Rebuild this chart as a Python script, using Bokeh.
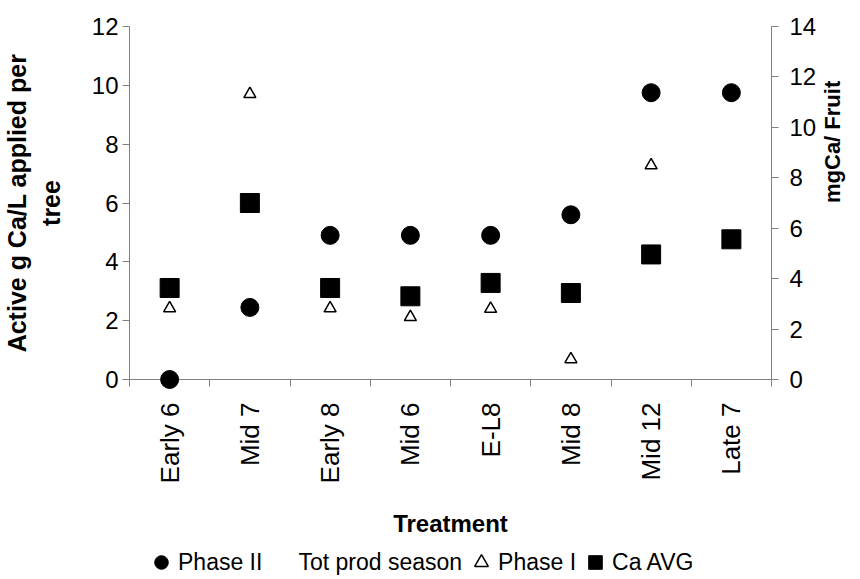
import numpy as np
from bokeh.plotting import figure
from bokeh.layouts import column
from bokeh.models import Range1d, LinearAxis, FixedTicker, Legend, LegendItem
from bokeh.embed import file_html
from bokeh.resources import INLINE

# ---- data ----
categories = ["Early 6", "Mid 7", "Early 8", "Mid 6", "E-L8", "Mid 8", "Mid 12", "Late 7"]
phase2 = [0.0, 2.45, 4.9, 4.9, 4.9, 5.6, 9.75, 9.75]            # left axis, circles
phase1 = [2.42, 9.7, 2.42, 2.12, 2.4, 0.69, 7.28, float("nan")]   # left axis, triangles
ca_avg = [3.63, 7.0, 3.63, 3.3, 3.83, 3.43, 4.96, 5.56]          # right axis, squares
left_ticks = [0, 2, 4, 6, 8, 10, 12]
right_ticks = [0, 2, 4, 6, 8, 10, 12, 14]
legend_labels = ["Phase II", "Tot prod season", "Phase I", "Ca AVG"]

FONT = "Liberation Sans"
AX = "#808080"

xpos = list(np.arange(len(categories)) + 0.5)
bounds = list(range(len(categories) + 1))

p = figure(width=860, height=545, x_range=Range1d(0, len(categories)),
           y_range=Range1d(left_ticks[0], left_ticks[-1]),
           output_backend="svg", toolbar_location=None,
           min_border_left=129, min_border_right=86, min_border_top=26,
           min_border_bottom=166)
p.outline_line_color = None
p.xgrid.grid_line_color = None
p.ygrid.grid_line_color = None
p.extra_y_ranges = {"right": Range1d(right_ticks[0], right_ticks[-1])}

# x axis
xa = p.xaxis[0]
xa.ticker = FixedTicker(ticks=xpos, minor_ticks=bounds)
xa.major_label_overrides = {float(x): c for x, c in zip(xpos, categories)}
xa.major_label_orientation = np.pi / 2
xa.major_tick_line_color = None
xa.major_tick_out = 7
xa.major_tick_in = 0
xa.minor_tick_line_color = AX
xa.minor_tick_out = 7
xa.minor_tick_in = 0
xa.axis_line_color = AX
xa.major_label_text_font = FONT
xa.major_label_text_font_size = "26px"
xa.major_label_text_color = "black"
xa.major_label_standoff = 16
xa.axis_label = "Treatment"
xa.axis_label_text_font = FONT
xa.axis_label_text_font_style = "bold"
xa.axis_label_text_font_size = "24px"
xa.axis_label_text_color = "black"
xa.axis_label_standoff = 24

# left axis
ya = p.yaxis[0]
ya.ticker = FixedTicker(ticks=left_ticks)
ya.major_tick_in = 0
ya.major_tick_out = 7
ya.minor_tick_line_color = None
ya.axis_line_color = AX
ya.major_tick_line_color = AX
ya.major_label_text_font = FONT
ya.major_label_text_font_size = "24px"
ya.major_label_text_color = "black"
ya.major_label_standoff = 4
ya.axis_label = "Active g Ca/L applied per\ntree"
ya.axis_label_text_font = FONT
ya.axis_label_text_font_style = "bold"
ya.axis_label_text_font_size = "25px"
ya.axis_label_text_color = "black"
ya.axis_label_standoff = 24

# right axis
ra = LinearAxis(y_range_name="right", ticker=FixedTicker(ticks=right_ticks))
ra.major_tick_in = 0
ra.major_tick_out = 7
ra.minor_tick_line_color = None
ra.axis_line_color = AX
ra.major_tick_line_color = AX
ra.major_label_text_font = FONT
ra.major_label_text_font_size = "24px"
ra.major_label_text_color = "black"
ra.major_label_standoff = 11
ra.axis_label = "mgCa/ Fruit"
ra.axis_label_orientation = np.pi / 2
ra.axis_label_text_font = FONT
ra.axis_label_text_font_style = "bold"
ra.axis_label_text_font_size = "22px"
ra.axis_label_text_color = "black"
ra.axis_label_standoff = 13
p.add_layout(ra, "right")

# glyphs
circle_style = dict(marker="circle", size=18, color="black")
tri_style = dict(marker="triangle", size=12, fill_color="white", line_color="black", line_width=1.5)
sq_style = dict(marker="square", size=19, color="black")

p.scatter(xpos, phase2, level="overlay", **circle_style)
p.scatter(xpos, phase1, **tri_style)
p.scatter(xpos, ca_avg, y_range_name="right", **sq_style)

# ---- legend strip below the chart (its own series sit outside its visible range) ----
lg = figure(width=860, height=34, x_range=Range1d(-20, -10), y_range=Range1d(-20, -10),
            output_backend="svg", toolbar_location=None,
            x_axis_location=None, y_axis_location=None,
            min_border_left=129, min_border_right=86, min_border_top=0, min_border_bottom=0)
lg.outline_line_color = None
lg.xgrid.grid_line_color = None
lg.ygrid.grid_line_color = None
l_p2 = lg.scatter(xpos, phase2, **circle_style)
l_tot = lg.scatter(xpos, phase2, marker="circle", size=1, fill_alpha=0, line_alpha=0)
l_p1 = lg.scatter(xpos, phase1, **tri_style)
l_ca = lg.scatter(xpos, ca_avg, **sq_style)

legend = Legend(items=[LegendItem(label=t, renderers=[r], index=0) for t, r in
                       zip(legend_labels, [l_p2, l_tot, l_p1, l_ca])],
                orientation="horizontal", location=(15, 0))
legend.border_line_color = None
legend.background_fill_alpha = 0
legend.label_text_font = FONT
legend.label_text_font_size = "23px"
legend.label_text_color = "black"
legend.glyph_width = 34
legend.glyph_height = 34
legend.label_standoff = -3
legend.spacing = 2
legend.padding = 0
legend.margin = 0
lg.add_layout(legend, "center")

open("out.html", "w").write(file_html(column(p, lg, spacing=0), INLINE))
